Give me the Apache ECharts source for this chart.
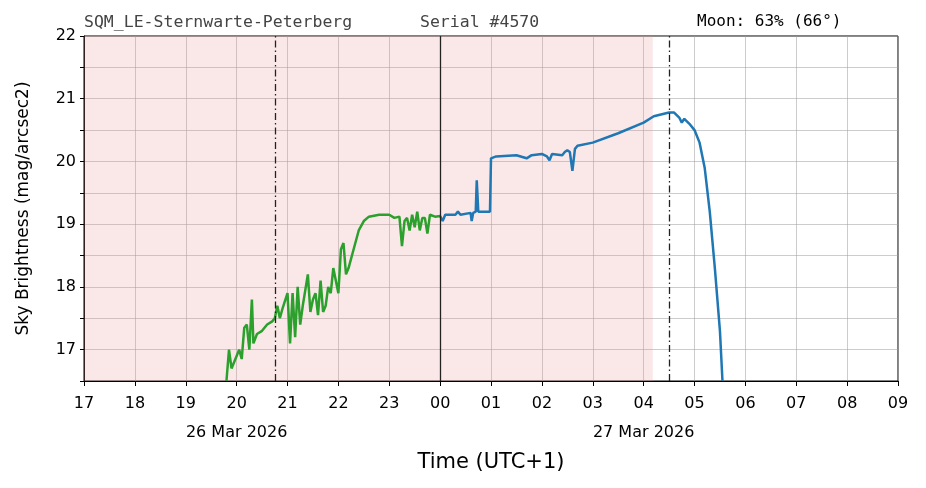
<!DOCTYPE html>
<html>
<head>
<meta charset="utf-8">
<script src="https://cdn.jsdelivr.net/npm/echarts@6/dist/echarts.min.js"></script>
<style>html,body{margin:0;padding:0;background:#fff}#chart{width:926px;height:488px}</style>
</head>
<body>
<div id="chart"></div>
<script>
// hours since 00:00 on 26 Mar (24 = midnight 27 Mar)
const eveningTimes = [19.8,19.85,19.9,20.0,20.05,20.1,20.15,20.2,20.25,20.3,20.33,20.4,20.5,20.6,20.7,20.75,20.8,20.85,20.9,21.0,21.05,21.1,21.15,21.2,21.25,21.3,21.4,21.45,21.5,21.55,21.6,21.65,21.7,21.75,21.8,21.85,21.9,22.0,22.05,22.1,22.15,22.2,22.3,22.4,22.5,22.6,22.8,23.0,23.1,23.2,23.25,23.3,23.35,23.4,23.45,23.5,23.55,23.6,23.65,23.7,23.75,23.8,23.9,24.0]
const eveningValues = [16.5,17.0,16.7,16.9,17.0,16.85,17.35,17.4,17.0,17.8,17.1,17.25,17.3,17.4,17.45,17.5,17.7,17.5,17.65,17.9,17.1,17.9,17.2,18.0,17.4,17.7,18.2,17.6,17.8,17.9,17.55,18.1,17.6,17.7,18.0,17.9,18.3,17.9,18.6,18.7,18.2,18.3,18.6,18.9,19.05,19.12,19.15,19.15,19.1,19.12,18.65,19.05,19.1,18.9,19.15,18.95,19.2,18.9,19.1,19.1,18.85,19.15,19.12,19.13]
const morningTimes = [24.0,24.05,24.1,24.3,24.35,24.4,24.6,24.62,24.65,24.7,24.72,24.75,24.98,25.0,25.1,25.5,25.7,25.8,26.0,26.1,26.15,26.2,26.4,26.45,26.5,26.55,26.6,26.65,26.7,27.0,27.5,28.0,28.2,28.5,28.6,28.7,28.75,28.8,28.9,29.0,29.1,29.2,29.3,29.4,29.5,29.55]
const morningValues = [19.13,19.05,19.15,19.15,19.2,19.15,19.18,19.05,19.18,19.2,19.7,19.2,19.2,20.05,20.08,20.1,20.05,20.1,20.12,20.08,20.02,20.12,20.1,20.15,20.18,20.15,19.85,20.2,20.25,20.3,20.45,20.62,20.72,20.78,20.78,20.7,20.62,20.68,20.6,20.5,20.3,19.9,19.2,18.3,17.3,16.5]
const nightShade = [17, 28.18]
const twilightMarks = [20.75, 28.5]
const dateLabels = { 20: '26 Mar 2026', 28: '27 Mar 2026' }

const zip = (a, b) => a.map((t, i) => [t, b[i]])
const chart = echarts.init(document.getElementById('chart'))
const mono = 'DejaVu Sans Mono'
chart.setOption({
  animation: false,
  grid: { left: 84, right: 28, top: 36, bottom: 107, show: true, borderColor: '#000', borderWidth: 1 },
  graphic: [
    { type: 'text', left: 84, top: 14, style: { text: 'SQM_LE-Sternwarte-Peterberg', font: '16.5px ' + mono, fill: '#444' } },
    { type: 'text', left: 420, top: 14, style: { text: 'Serial #4570', font: '16.5px ' + mono, fill: '#444' } },
    { type: 'text', left: 697, top: 14, style: { text: 'Moon: 63% (66°)', font: '16px ' + mono, fill: '#000' } }
  ],
  xAxis: {
    type: 'value', min: 17, max: 33, interval: 1,
    name: 'Time (UTC+1)', nameLocation: 'middle', nameGap: 70,
    nameTextStyle: { fontSize: 21, fontFamily: 'DejaVu Sans', color: '#000' },
    axisLine: { lineStyle: { color: '#000' } },
    axisTick: { lineStyle: { color: '#000' }, length: 5 },
    splitLine: { show: true, lineStyle: { color: '#999', width: 0.5 } },
    axisLabel: {
      color: '#000', fontSize: 16, fontFamily: 'DejaVu Sans', lineHeight: 29,
      formatter: v => {
        const h = String(v % 24).padStart(2, '0')
        return dateLabels[v] ? h + '\n' + dateLabels[v] : h
      }
    }
  },
  yAxis: {
    type: 'value', min: 16.5, max: 22, interval: 0.5,
    name: 'Sky Brightness (mag/arcsec2)', nameLocation: 'middle', nameGap: 52,
    nameTextStyle: { fontSize: 17, fontFamily: 'DejaVu Sans', color: '#000' },
    axisLine: { show: true, lineStyle: { color: '#000' } },
    axisTick: { show: true, lineStyle: { color: '#000' }, length: 4 },
    splitLine: { show: true, lineStyle: { color: '#999', width: 0.5 } },
    axisLabel: {
      color: '#000', fontSize: 16, fontFamily: 'DejaVu Sans',
      formatter: v => (Math.abs(v - Math.round(v)) < 1e-6 ? String(Math.round(v)) : '')
    }
  },
  series: [
    {
      type: 'line', data: zip(eveningTimes, eveningValues), showSymbol: false,
      lineStyle: { color: '#2ca02c', width: 2.5 }, z: 3,
      markArea: {
        silent: true, itemStyle: { color: 'rgba(230,150,150,0.22)' },
        data: [[{ xAxis: nightShade[0] }, { xAxis: nightShade[1] }]]
      },
      markLine: {
        silent: true, symbol: 'none', label: { show: false },
        data: [
          { xAxis: twilightMarks[0], lineStyle: { color: '#222', type: [7, 3, 1.5, 3], width: 1.3 } },
          { xAxis: twilightMarks[1], lineStyle: { color: '#222', type: [7, 3, 1.5, 3], width: 1.3 } },
          { xAxis: 24, lineStyle: { color: '#222', type: 'solid', width: 1.3 } }
        ]
      }
    },
    {
      type: 'line', data: zip(morningTimes, morningValues), showSymbol: false,
      lineStyle: { color: '#1f77b4', width: 2.5 }, z: 3
    }
  ]
})
</script>
</body>
</html>
